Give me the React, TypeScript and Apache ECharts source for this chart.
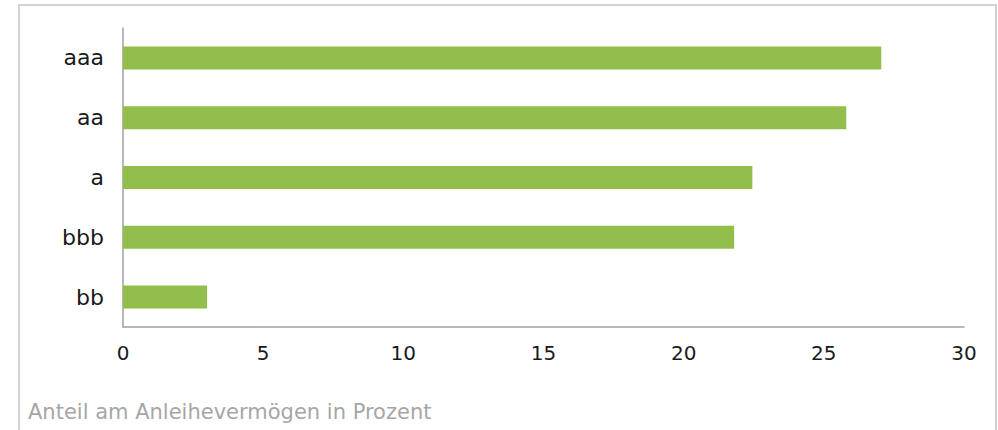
import React, { useEffect, useRef } from "react";
import * as echarts from "echarts";

const categories = ["bb", "bbb", "a", "aa", "aaa"];
const values = [3.0, 21.8, 22.45, 25.8, 27.05];
const xTicks = { min: 0, max: 30, interval: 5 };
const footnote = "Anteil am Anleihevermögen in Prozent";

export default function App() {
  const ref = useRef<HTMLDivElement>(null);
  useEffect(() => {
    if (!ref.current) return;
    const chart = echarts.init(ref.current, null, { renderer: "svg" });
    const font = "'DejaVu Sans', sans-serif";
    chart.setOption({
      animation: false,
      backgroundColor: "#ffffff",
      textStyle: { fontFamily: font },
      grid: { left: 123, right: 34, top: 28, bottom: 103, containLabel: false },
      xAxis: {
        type: "value",
        min: xTicks.min,
        max: xTicks.max,
        interval: xTicks.interval,
        axisLine: { show: true, lineStyle: { color: "#a0a0a0", width: 1.5 } },
        axisTick: { show: false },
        splitLine: { show: false },
        axisLabel: { color: "#1a1a1a", fontSize: 20, margin: 16, fontFamily: font },
      },
      yAxis: {
        type: "category",
        data: categories,
        axisLine: { show: true, lineStyle: { color: "#a0a0a0", width: 1.5 } },
        axisTick: { show: false },
        axisLabel: { color: "#1a1a1a", fontSize: 22, margin: 19, fontFamily: font },
      },
      series: [
        {
          type: "bar",
          data: values,
          barWidth: 23,
          itemStyle: { color: "#92bf4b" },
        },
      ],
      graphic: [
        {
          type: "rect",
          shape: { x: 19, y: 5, width: 977, height: 440 },
          style: { fill: "none", stroke: "#d2d2d2", lineWidth: 2 },
          silent: true,
        },
        {
          type: "text",
          left: 28,
          top: 401,
          style: { text: footnote, fill: "#a6a6a6", fontSize: 21, fontFamily: font },
        },
      ],
    });
    return () => chart.dispose();
  }, []);
  return (
    <div
      ref={ref}
      style={{ position: "absolute", left: 0, top: 0, width: 998, height: 430 }}
    />
  );
}
